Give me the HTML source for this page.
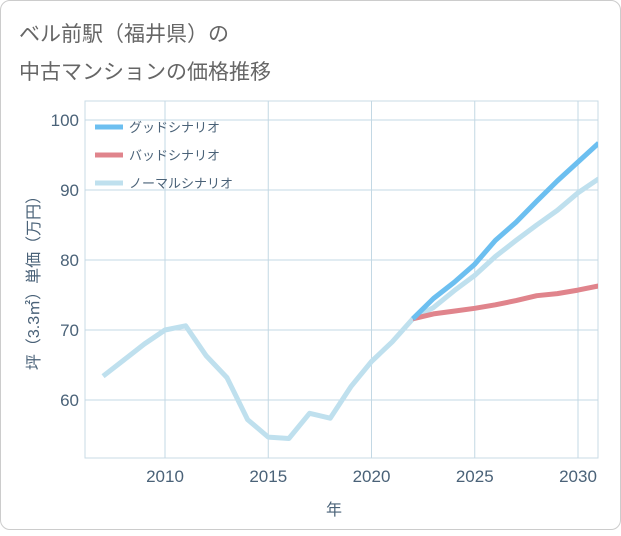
<!DOCTYPE html>
<html><head><meta charset="utf-8"><style>
body{margin:0;background:#fff;font-family:"Liberation Sans","Noto Sans CJK JP",sans-serif;}
#card{position:absolute;left:0;top:0;width:619px;height:528px;border:1px solid #ccc;border-radius:10px;background:#fff;}
</style></head><body>
<div id="card">
<svg id="chart" width="621" height="530">
<text x="18" y="40" font-size="21" fill="#666">ベル前駅（福井県）の</text>
<text x="18" y="78" font-size="21" fill="#666">中古マンションの価格推移</text>
<g id="grid"></g><g id="series"></g><g id="legend"></g>
<text transform="translate(38,278) rotate(-90)" text-anchor="middle" font-size="16" fill="#4a6278">坪（3.3㎡）単価（万円）</text>
<text x="333" y="514" text-anchor="middle" font-size="16" fill="#4a6278">年</text>
</svg></div>
<script>
const years=[2007,2008,2009,2010,2011,2012,2013,2014,2015,2016,2017,2018,2019,2020,2021,2022,2023,2024,2025,2026,2027,2028,2029,2030,2031];
const normal=[63.4,65.7,68,70,70.6,66.3,63.2,57.2,54.7,54.5,58.1,57.4,61.9,65.5,68.3,71.6,73.2,75.6,77.8,80.5,82.8,85,87.1,89.6,91.6];
const fYears=[2022,2023,2024,2025,2026,2027,2028,2029,2030,2031];
const good=[71.6,74.5,76.8,79.4,82.8,85.4,88.4,91.3,94,96.7];
const bad=[71.6,72.3,72.7,73.1,73.6,74.2,74.9,75.2,75.7,76.3];
const xTicks=[2010,2015,2020,2025,2030];
const yTicks=[60,70,80,90,100];
const L=84,R=597,T=100,B=457;
const x=v=>164+(v-2010)*20.65;
const y=v=>329-(v-70)*7;
const NS="http://www.w3.org/2000/svg";
function mk(tag,attrs,parent){const e=document.createElementNS(NS,tag);for(const k in attrs)e.setAttribute(k,attrs[k]);parent.appendChild(e);return e;}
const grid=document.getElementById('grid');
const frame=mk('rect',{x:L,y:T,width:R-L,height:B-T,fill:'none',stroke:'#c9dbe6'},grid);


xTicks.forEach(t=>{const l=mk('line',{x1:x(t),x2:x(t),y1:T,y2:B,stroke:'#c3d8e4'},grid);


const tx=mk('text',{x:x(t),y:481,'text-anchor':'middle','font-size':17,fill:'#4a6278'},grid);tx.textContent=t;

});
yTicks.forEach(t=>{const l=mk('line',{x1:L,x2:R,y1:y(t),y2:y(t),stroke:'#c3d8e4'},grid);


const tx=mk('text',{x:78,y:y(t)+6,'text-anchor':'end','font-size':17,fill:'#4a6278'},grid);tx.textContent=t;

});
const ser=document.getElementById('series');
function line(xs,vs,color,name){const p=mk('polyline',{points:xs.map((v,i)=>x(v)+','+y(vs[i])).join(' '),fill:'none',stroke:color,'stroke-width':5,'stroke-linejoin':'round'},ser);

}
const cp=mk('clipPath',{id:'cp'},ser);mk('rect',{x:L,y:T,width:R-L,height:B-T},cp);ser.setAttribute('clip-path','url(#cp)');
line(years,normal,'#bfe0ee','normal-scenario-line');
line(fYears,bad,'#e0848c','bad-scenario-line');
line(fYears,good,'#6cbff0','good-scenario-line');
const lg=document.getElementById('legend');
[['グッドシナリオ','#6cbff0'],['バッドシナリオ','#e0848c'],['ノーマルシナリオ','#bfe0ee']].forEach((d,i)=>{
const g=mk('g',{},lg);


mk('line',{x1:94,x2:122,y1:126+i*28,y2:126+i*28,stroke:d[1],'stroke-width':5},g);
const t=mk('text',{x:128,y:131+i*28,'font-size':13,fill:'#4a6278'},g);t.textContent=d[0];});
</script></body></html>
